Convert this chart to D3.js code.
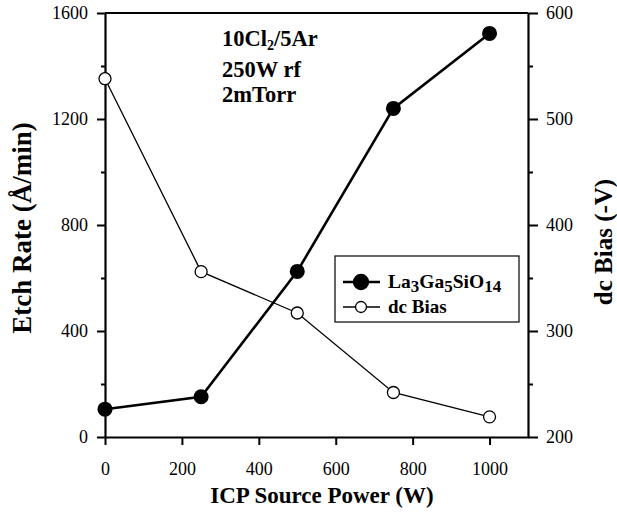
<!DOCTYPE html>
<html>
<head>
<meta charset="utf-8">
<script src="https://cdn.jsdelivr.net/npm/d3@7"></script>
<style>
  body { margin: 0; background: #fff; }
  svg { font-family: "Liberation Serif", "DejaVu Serif", serif; }
</style>
</head>
<body>
<svg id="chart" width="617" height="519"></svg>
<script>
// --- data ---
const power = [0, 250, 500, 750, 1000];
const etchRate = [105, 152, 625, 1240, 1523];
const dcBias = [538, 356, 317, 242, 219];

const xTicks = [0, 200, 400, 600, 800, 1000];
const leftTicks = [0, 400, 800, 1200, 1600];
const leftMinor = [200, 600, 1000, 1400];
const rightTicks = [200, 300, 400, 500, 600];
const rightMinor = [250, 350, 450, 550];

const notes = [["10Cl", "2", "/5Ar"], ["250W rf"], ["2mTorr"]];

const svg = d3.select("#chart");
const m = { left: 105, right: 528, top: 13, bottom: 437 };

const x = d3.scaleLinear().domain([0, 1100]).range([m.left, m.right]);
const yL = d3.scaleLinear().domain([0, 1600]).range([m.bottom, m.top]);
const yR = d3.scaleLinear().domain([200, 600]).range([m.bottom, m.top]);
const fmt = d3.format("d");

// frame: top border line
svg.append("line").attr("x1", m.left).attr("x2", m.right).attr("y1", m.top).attr("y2", m.top)
  .attr("stroke", "#000").attr("stroke-width", 2);

function styleAxis(g) {
  g.selectAll("path.domain").attr("stroke-width", 2.2);
  g.selectAll(".tick line").attr("stroke-width", 2);
  g.selectAll("text").attr("font-size", 18).attr("font-family", "Liberation Serif").attr("fill", "#000");
}

// bottom axis
const gx = svg.append("g").attr("transform", `translate(0,${m.bottom})`)
  .call(d3.axisBottom(x).tickValues(xTicks).tickFormat(fmt).tickSize(8).tickSizeOuter(0).tickPadding(17));
styleAxis(gx);

// left axis
const gl = svg.append("g").attr("transform", `translate(${m.left},0)`)
  .call(d3.axisLeft(yL).tickValues(leftTicks).tickFormat(fmt).tickSize(8).tickSizeOuter(0).tickPadding(9));
styleAxis(gl);
svg.append("g").attr("transform", `translate(${m.left},0)`)
  .call(d3.axisLeft(yL).tickValues(leftMinor).tickSize(4).tickFormat(""))
  .call(g => g.select(".domain").remove())
  .selectAll("line").attr("stroke-width", 2);

// right axis
const gr = svg.append("g").attr("transform", `translate(${m.right},0)`)
  .call(d3.axisRight(yR).tickValues(rightTicks).tickFormat(fmt).tickSize(10).tickSizeOuter(0).tickPadding(8));
styleAxis(gr);
svg.append("g").attr("transform", `translate(${m.right},0)`)
  .call(d3.axisRight(yR).tickValues(rightMinor).tickSize(5).tickFormat(""))
  .call(g => g.select(".domain").remove())
  .selectAll("line").attr("stroke-width", 2);

// series
const etch = power.map((p, i) => ({ p, v: etchRate[i] }));
const bias = power.map((p, i) => ({ p, v: dcBias[i] }));

svg.append("path").datum(bias).attr("fill", "none").attr("stroke", "#000").attr("stroke-width", 1.3)
  .attr("d", d3.line().x(d => x(d.p)).y(d => yR(d.v)));
svg.append("path").datum(etch).attr("fill", "none").attr("stroke", "#000").attr("stroke-width", 2.6)
  .attr("d", d3.line().x(d => x(d.p)).y(d => yL(d.v)));

svg.selectAll(".open").data(bias).join("circle").attr("class", "open")
  .attr("cx", d => x(d.p)).attr("cy", d => yR(d.v)).attr("r", 6)
  .attr("fill", "#fff").attr("stroke", "#000").attr("stroke-width", 1.3);
svg.selectAll(".filled").data(etch).join("circle").attr("class", "filled")
  .attr("cx", d => x(d.p)).attr("cy", d => yL(d.v)).attr("r", 7.5)
  .attr("fill", "#000");

// axis titles
svg.append("text").attr("x", 322).attr("y", 503).attr("text-anchor", "middle")
  .attr("font-size", 23).attr("font-weight", "bold").text("ICP Source Power (W)");
svg.append("text").attr("transform", "translate(31,228) rotate(-90)").attr("text-anchor", "middle")
  .attr("font-size", 27).attr("font-weight", "bold").text("Etch Rate (Å/min)");
svg.append("text").attr("transform", "translate(612,242) rotate(-90)").attr("text-anchor", "middle")
  .attr("font-size", 25).attr("font-weight", "bold").text("dc Bias (-V)");

// condition notes
const noteY = [46, 77, 102];
const nt = svg.append("g").attr("font-size", 22.5).attr("font-weight", "bold");
notes.forEach((parts, i) => {
  const t = nt.append("text").attr("x", 222).attr("y", noteY[i]);
  parts.forEach((s, j) => {
    const sp = t.append("tspan").text(s);
    if (parts.length > 1 && j === 1) sp.attr("font-size", 14).attr("dy", 4);
    if (parts.length > 1 && j === 2) sp.attr("dy", -4);
  });
});

// legend
const lg = svg.append("g");
lg.append("rect").attr("x", 335).attr("y", 256).attr("width", 184).attr("height", 66)
  .attr("fill", "#fff").attr("stroke", "#000").attr("stroke-width", 1.2);
const legendRows = [
  { y: 282, w: 2.6, r: 7.5, fill: "#000" },
  { y: 307, w: 1.3, r: 5.5, fill: "#fff" }
];
legendRows.forEach(r => {
  lg.append("line").attr("x1", 343).attr("x2", 380).attr("y1", r.y).attr("y2", r.y)
    .attr("stroke", "#000").attr("stroke-width", r.w);
  lg.append("circle").attr("cx", 361).attr("cy", r.y).attr("r", r.r)
    .attr("fill", r.fill).attr("stroke", "#000").attr("stroke-width", 1.3);
});
const lt = lg.append("text").attr("x", 388).attr("y", 288).attr("font-size", 19.5).attr("font-weight", "bold");
[["La", 0, 19.5], ["3", 4, 17], ["Ga", -4, 19.5], ["5", 4, 17], ["SiO", -4, 19.5], ["14", 4, 17]].forEach(([s, dy, fs]) => {
  lt.append("tspan").text(s).attr("dy", dy).attr("font-size", fs);
});
lg.append("text").attr("x", 388).attr("y", 313).attr("font-size", 19).attr("font-weight", "bold").text("dc Bias");
</script>
</body>
</html>
